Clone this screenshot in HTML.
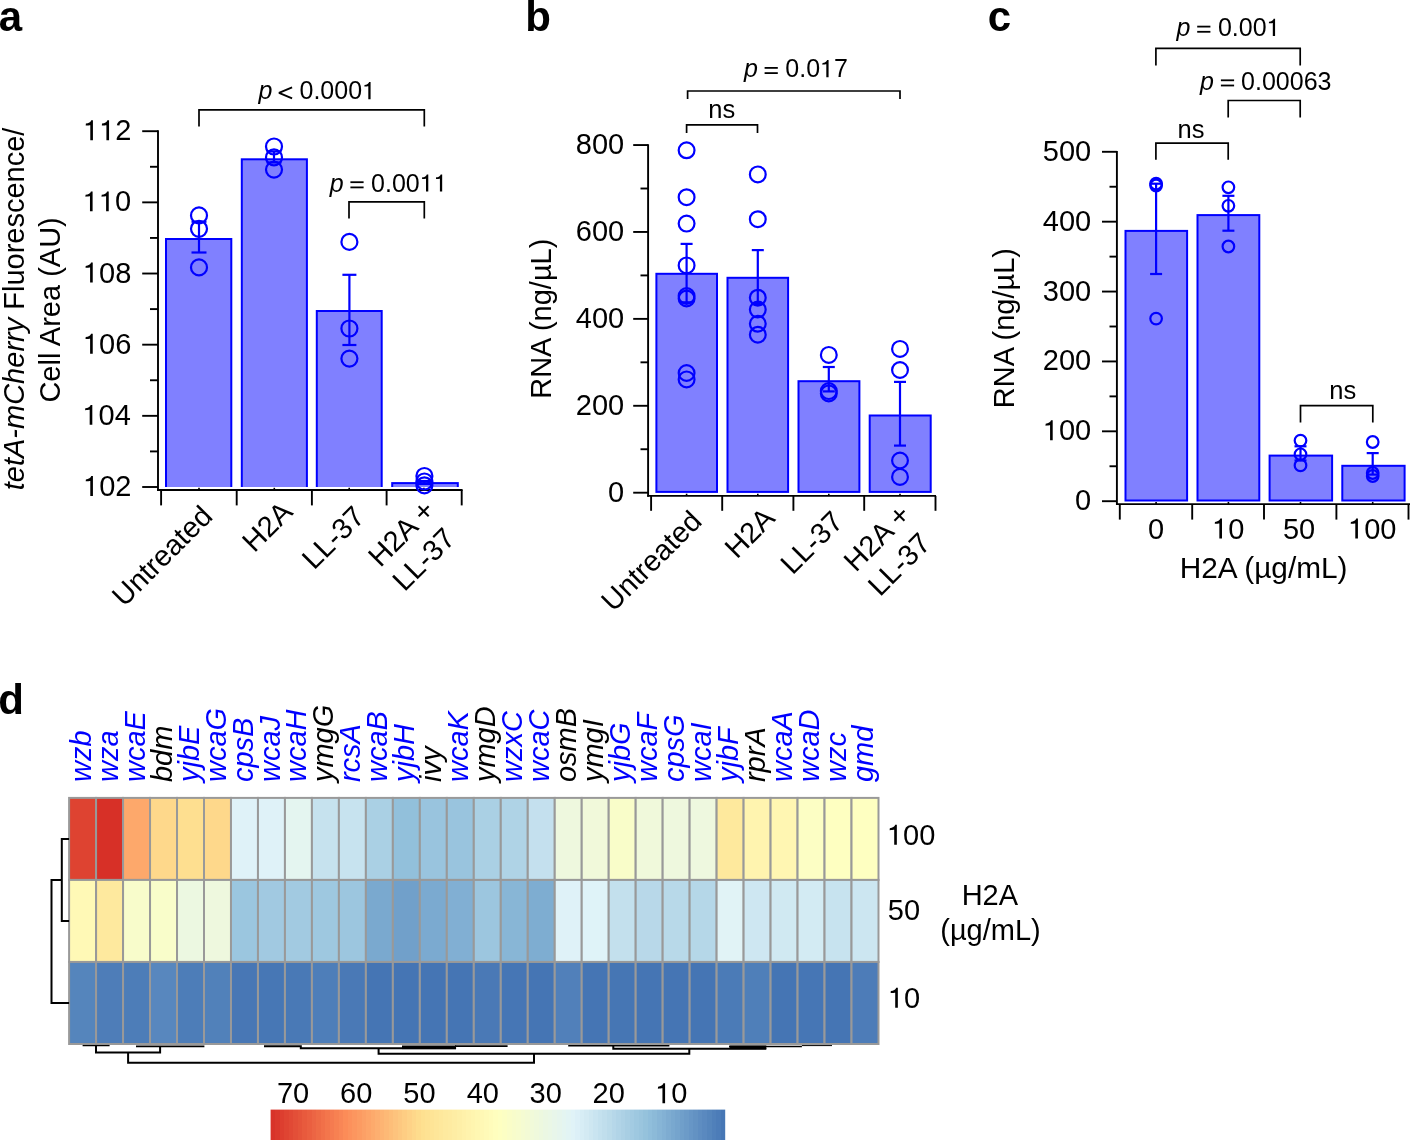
<!DOCTYPE html>
<html><head><meta charset="utf-8"><style>
html,body{margin:0;padding:0;background:#fff;}
svg{display:block;font-family:"Liberation Sans",sans-serif;will-change:transform;}
</style></head><body>
<svg width="1410" height="1140" viewBox="0 0 1410 1140">
<rect width="1410" height="1140" fill="#fff"/>
<text x="-1.23" y="30.90" font-size="42" font-weight="bold" fill="#000">a</text>
<line x1="158.00" y1="130.30" x2="158.00" y2="490.90" stroke="#000" stroke-width="1.9"/>
<line x1="142.20" y1="131.20" x2="158.00" y2="131.20" stroke="#000" stroke-width="1.9"/>
<text x="83.07" y="140.20" font-size="29" fill="#000">  2</text><path d="M696 0L696 1409L576 1409C560 1290 380 1175 200 1171L186 1036C330 1040 450 1050 510 1061L510 0Z" fill="#000" transform="translate(83.07,140.20) scale(0.01416,-0.01416)"/><path d="M696 0L696 1409L576 1409C560 1290 380 1175 200 1171L186 1036C330 1040 450 1050 510 1061L510 0Z" fill="#000" transform="translate(99.20,140.20) scale(0.01416,-0.01416)"/>
<line x1="150.00" y1="166.78" x2="158.00" y2="166.78" stroke="#000" stroke-width="1.9"/>
<line x1="142.20" y1="202.36" x2="158.00" y2="202.36" stroke="#000" stroke-width="1.9"/>
<text x="82.75" y="211.36" font-size="29" fill="#000">  0</text><path d="M696 0L696 1409L576 1409C560 1290 380 1175 200 1171L186 1036C330 1040 450 1050 510 1061L510 0Z" fill="#000" transform="translate(82.75,211.36) scale(0.01416,-0.01416)"/><path d="M696 0L696 1409L576 1409C560 1290 380 1175 200 1171L186 1036C330 1040 450 1050 510 1061L510 0Z" fill="#000" transform="translate(98.88,211.36) scale(0.01416,-0.01416)"/>
<line x1="150.00" y1="237.94" x2="158.00" y2="237.94" stroke="#000" stroke-width="1.9"/>
<line x1="142.20" y1="273.52" x2="158.00" y2="273.52" stroke="#000" stroke-width="1.9"/>
<text x="82.88" y="282.52" font-size="29" fill="#000"> 08</text><path d="M696 0L696 1409L576 1409C560 1290 380 1175 200 1171L186 1036C330 1040 450 1050 510 1061L510 0Z" fill="#000" transform="translate(82.88,282.52) scale(0.01416,-0.01416)"/>
<line x1="150.00" y1="309.10" x2="158.00" y2="309.10" stroke="#000" stroke-width="1.9"/>
<line x1="142.20" y1="344.68" x2="158.00" y2="344.68" stroke="#000" stroke-width="1.9"/>
<text x="82.89" y="353.68" font-size="29" fill="#000"> 06</text><path d="M696 0L696 1409L576 1409C560 1290 380 1175 200 1171L186 1036C330 1040 450 1050 510 1061L510 0Z" fill="#000" transform="translate(82.89,353.68) scale(0.01416,-0.01416)"/>
<line x1="150.00" y1="380.26" x2="158.00" y2="380.26" stroke="#000" stroke-width="1.9"/>
<line x1="142.20" y1="415.84" x2="158.00" y2="415.84" stroke="#000" stroke-width="1.9"/>
<text x="82.46" y="424.84" font-size="29" fill="#000"> 04</text><path d="M696 0L696 1409L576 1409C560 1290 380 1175 200 1171L186 1036C330 1040 450 1050 510 1061L510 0Z" fill="#000" transform="translate(82.46,424.84) scale(0.01416,-0.01416)"/>
<line x1="150.00" y1="451.42" x2="158.00" y2="451.42" stroke="#000" stroke-width="1.9"/>
<line x1="142.20" y1="487.00" x2="158.00" y2="487.00" stroke="#000" stroke-width="1.9"/>
<text x="83.07" y="496.00" font-size="29" fill="#000"> 02</text><path d="M696 0L696 1409L576 1409C560 1290 380 1175 200 1171L186 1036C330 1040 450 1050 510 1061L510 0Z" fill="#000" transform="translate(83.07,496.00) scale(0.01416,-0.01416)"/>
<line x1="157.10" y1="490.00" x2="462.60" y2="490.00" stroke="#000" stroke-width="1.9"/>
<line x1="161.10" y1="490.00" x2="161.10" y2="505.40" stroke="#000" stroke-width="1.9"/>
<line x1="236.70" y1="490.00" x2="236.70" y2="505.40" stroke="#000" stroke-width="1.9"/>
<line x1="311.90" y1="490.00" x2="311.90" y2="505.40" stroke="#000" stroke-width="1.9"/>
<line x1="386.60" y1="490.00" x2="386.60" y2="505.40" stroke="#000" stroke-width="1.9"/>
<line x1="461.70" y1="490.00" x2="461.70" y2="505.40" stroke="#000" stroke-width="1.9"/>
<line x1="199.00" y1="487.80" x2="199.00" y2="490.00" stroke="#000" stroke-width="1.6"/>
<line x1="274.30" y1="487.80" x2="274.30" y2="490.00" stroke="#000" stroke-width="1.6"/>
<line x1="349.20" y1="487.80" x2="349.20" y2="490.00" stroke="#000" stroke-width="1.6"/>
<line x1="423.90" y1="487.80" x2="423.90" y2="490.00" stroke="#000" stroke-width="1.6"/>
<clipPath id="clipa"><rect x="150" y="0" width="320" height="487.0"/></clipPath>
<g clip-path="url(#clipa)">
<rect x="166.00" y="239.00" width="65.30" height="252.00" fill="#8080ff" stroke="#0000ff" stroke-width="2.0"/>
<rect x="241.80" y="159.30" width="65.10" height="331.70" fill="#8080ff" stroke="#0000ff" stroke-width="2.0"/>
<rect x="316.80" y="311.00" width="64.90" height="180.00" fill="#8080ff" stroke="#0000ff" stroke-width="2.0"/>
<rect x="392.20" y="483.10" width="65.60" height="7.90" fill="#8080ff" stroke="#0000ff" stroke-width="2.0"/>
</g>
<circle cx="199.00" cy="215.40" r="8.00" fill="none" stroke="#0000ff" stroke-width="2.2"/>
<circle cx="199.00" cy="228.80" r="8.00" fill="none" stroke="#0000ff" stroke-width="2.2"/>
<circle cx="199.00" cy="267.40" r="8.00" fill="none" stroke="#0000ff" stroke-width="2.2"/>
<line x1="199.00" y1="221.70" x2="199.00" y2="252.50" stroke="#0000ff" stroke-width="2.2"/>
<line x1="191.50" y1="221.70" x2="206.50" y2="221.70" stroke="#0000ff" stroke-width="2.2"/>
<line x1="191.50" y1="252.50" x2="206.50" y2="252.50" stroke="#0000ff" stroke-width="2.2"/>
<circle cx="274.00" cy="146.50" r="8.00" fill="none" stroke="#0000ff" stroke-width="2.2"/>
<circle cx="274.00" cy="157.40" r="8.00" fill="none" stroke="#0000ff" stroke-width="2.2"/>
<circle cx="274.00" cy="169.60" r="8.00" fill="none" stroke="#0000ff" stroke-width="2.2"/>
<line x1="274.00" y1="151.50" x2="274.00" y2="162.50" stroke="#0000ff" stroke-width="2.2"/>
<line x1="266.50" y1="151.50" x2="281.50" y2="151.50" stroke="#0000ff" stroke-width="2.2"/>
<line x1="266.50" y1="162.50" x2="281.50" y2="162.50" stroke="#0000ff" stroke-width="2.2"/>
<circle cx="349.40" cy="241.90" r="8.00" fill="none" stroke="#0000ff" stroke-width="2.2"/>
<circle cx="349.40" cy="328.50" r="8.00" fill="none" stroke="#0000ff" stroke-width="2.2"/>
<circle cx="349.40" cy="358.60" r="8.00" fill="none" stroke="#0000ff" stroke-width="2.2"/>
<line x1="349.40" y1="274.80" x2="349.40" y2="345.00" stroke="#0000ff" stroke-width="2.2"/>
<line x1="342.40" y1="274.80" x2="356.40" y2="274.80" stroke="#0000ff" stroke-width="2.2"/>
<line x1="342.40" y1="345.00" x2="356.40" y2="345.00" stroke="#0000ff" stroke-width="2.2"/>
<circle cx="424.40" cy="476.00" r="8.00" fill="none" stroke="#0000ff" stroke-width="2.2"/>
<circle cx="424.40" cy="481.50" r="8.00" fill="none" stroke="#0000ff" stroke-width="2.2"/>
<circle cx="424.40" cy="485.30" r="8.00" fill="none" stroke="#0000ff" stroke-width="2.2"/>
<line x1="424.40" y1="481.00" x2="424.40" y2="484.00" stroke="#0000ff" stroke-width="2.2"/>
<line x1="417.40" y1="481.00" x2="431.40" y2="481.00" stroke="#0000ff" stroke-width="2.2"/>
<line x1="417.40" y1="484.00" x2="431.40" y2="484.00" stroke="#0000ff" stroke-width="2.2"/>
<polyline points="199.00,126.50 199.00,109.90 424.30,109.90 424.30,126.50" fill="none" stroke="#000" stroke-width="1.7"/>
<text x="258.42" y="99.20" font-size="25" font-style="italic" fill="#000">p</text>
<polyline points="292.10,87.30 279.00,92.85 292.10,98.40" fill="none" stroke="#000" stroke-width="1.9" stroke-linejoin="bevel"/>
<text x="299.52" y="99.20" font-size="25" fill="#000">0.000 </text><path d="M696 0L696 1409L576 1409C560 1290 380 1175 200 1171L186 1036C330 1040 450 1050 510 1061L510 0Z" fill="#000" transform="translate(362.08,99.20) scale(0.01221,-0.01221)"/>
<polyline points="349.00,218.60 349.00,201.80 424.30,201.80 424.30,218.60" fill="none" stroke="#000" stroke-width="1.7"/>
<text x="329.82" y="191.60" font-size="25" font-style="italic" fill="#000">p</text>
<line x1="350.40" y1="182.20" x2="363.60" y2="182.20" stroke="#000" stroke-width="1.8"/>
<line x1="350.40" y1="187.40" x2="363.60" y2="187.40" stroke="#000" stroke-width="1.8"/>
<text x="371.12" y="191.60" font-size="25" fill="#000">0.00  </text><path d="M696 0L696 1409L576 1409C560 1290 380 1175 200 1171L186 1036C330 1040 450 1050 510 1061L510 0Z" fill="#000" transform="translate(419.78,191.60) scale(0.01221,-0.01221)"/><path d="M696 0L696 1409L576 1409C560 1290 380 1175 200 1171L186 1036C330 1040 450 1050 510 1061L510 0Z" fill="#000" transform="translate(433.68,191.60) scale(0.01221,-0.01221)"/>
<text transform="translate(23.9,490.22) rotate(-90)" font-size="29"><tspan font-style="italic">tetA-mCherry</tspan> Fluorescence/</text>
<text transform="translate(59.60,402.57) rotate(-90)" font-size="29" fill="#000">Cell Area (AU)</text>
<text transform="translate(124.07,607.83) rotate(-45)" font-size="29">Untreated</text>
<text transform="translate(254.25,553.55) rotate(-45)" font-size="29">H2A</text>
<text transform="translate(313.98,570.82) rotate(-45)" font-size="29">LL-37</text>
<text transform="translate(380.15,568.35) rotate(-45)" font-size="29">H2A +</text>
<text transform="translate(404.58,592.52) rotate(-45)" font-size="29">LL-37</text>
<text x="525.33" y="30.60" font-size="42" font-weight="bold" fill="#000">b</text>
<line x1="648.10" y1="144.15" x2="648.10" y2="496.80" stroke="#000" stroke-width="1.9"/>
<line x1="633.20" y1="492.70" x2="648.10" y2="492.70" stroke="#000" stroke-width="1.9"/>
<text x="608.00" y="501.80" font-size="29" fill="#000">0</text>
<line x1="640.50" y1="449.24" x2="648.10" y2="449.24" stroke="#000" stroke-width="1.9"/>
<line x1="633.20" y1="405.79" x2="648.10" y2="405.79" stroke="#000" stroke-width="1.9"/>
<text x="575.75" y="414.89" font-size="29" fill="#000">200</text>
<line x1="640.50" y1="362.33" x2="648.10" y2="362.33" stroke="#000" stroke-width="1.9"/>
<line x1="633.20" y1="318.88" x2="648.10" y2="318.88" stroke="#000" stroke-width="1.9"/>
<text x="575.75" y="327.98" font-size="29" fill="#000">400</text>
<line x1="640.50" y1="275.42" x2="648.10" y2="275.42" stroke="#000" stroke-width="1.9"/>
<line x1="633.20" y1="231.96" x2="648.10" y2="231.96" stroke="#000" stroke-width="1.9"/>
<text x="575.75" y="241.06" font-size="29" fill="#000">600</text>
<line x1="640.50" y1="188.51" x2="648.10" y2="188.51" stroke="#000" stroke-width="1.9"/>
<line x1="633.20" y1="145.05" x2="648.10" y2="145.05" stroke="#000" stroke-width="1.9"/>
<text x="575.75" y="154.15" font-size="29" fill="#000">800</text>
<line x1="647.20" y1="495.90" x2="936.00" y2="495.90" stroke="#000" stroke-width="1.9"/>
<line x1="651.10" y1="495.90" x2="651.10" y2="510.80" stroke="#000" stroke-width="1.9"/>
<line x1="722.20" y1="495.90" x2="722.20" y2="510.80" stroke="#000" stroke-width="1.9"/>
<line x1="793.40" y1="495.90" x2="793.40" y2="510.80" stroke="#000" stroke-width="1.9"/>
<line x1="864.20" y1="495.90" x2="864.20" y2="510.80" stroke="#000" stroke-width="1.9"/>
<line x1="935.50" y1="495.90" x2="935.50" y2="510.80" stroke="#000" stroke-width="1.9"/>
<line x1="686.60" y1="493.70" x2="686.60" y2="495.90" stroke="#000" stroke-width="1.6"/>
<line x1="757.80" y1="493.70" x2="757.80" y2="495.90" stroke="#000" stroke-width="1.6"/>
<line x1="828.80" y1="493.70" x2="828.80" y2="495.90" stroke="#000" stroke-width="1.6"/>
<line x1="900.00" y1="493.70" x2="900.00" y2="495.90" stroke="#000" stroke-width="1.6"/>
<rect x="656.40" y="273.80" width="60.60" height="218.10" fill="#8080ff" stroke="#0000ff" stroke-width="2.0"/>
<rect x="727.50" y="277.80" width="60.60" height="214.10" fill="#8080ff" stroke="#0000ff" stroke-width="2.0"/>
<rect x="798.50" y="381.20" width="60.90" height="110.70" fill="#8080ff" stroke="#0000ff" stroke-width="2.0"/>
<rect x="869.70" y="415.50" width="61.00" height="76.40" fill="#8080ff" stroke="#0000ff" stroke-width="2.0"/>
<circle cx="686.60" cy="150.30" r="7.90" fill="none" stroke="#0000ff" stroke-width="2.2"/>
<circle cx="686.60" cy="197.20" r="7.90" fill="none" stroke="#0000ff" stroke-width="2.2"/>
<circle cx="686.60" cy="223.60" r="7.90" fill="none" stroke="#0000ff" stroke-width="2.2"/>
<circle cx="686.60" cy="265.40" r="7.90" fill="none" stroke="#0000ff" stroke-width="2.2"/>
<circle cx="686.60" cy="296.00" r="7.90" fill="none" stroke="#0000ff" stroke-width="2.2"/>
<circle cx="686.60" cy="298.50" r="7.90" fill="none" stroke="#0000ff" stroke-width="2.2"/>
<circle cx="686.60" cy="373.00" r="7.90" fill="none" stroke="#0000ff" stroke-width="2.2"/>
<circle cx="686.60" cy="379.40" r="7.90" fill="none" stroke="#0000ff" stroke-width="2.2"/>
<line x1="686.60" y1="243.90" x2="686.60" y2="302.30" stroke="#0000ff" stroke-width="2.2"/>
<line x1="680.60" y1="243.90" x2="692.60" y2="243.90" stroke="#0000ff" stroke-width="2.2"/>
<line x1="680.60" y1="302.30" x2="692.60" y2="302.30" stroke="#0000ff" stroke-width="2.2"/>
<circle cx="757.80" cy="174.40" r="7.90" fill="none" stroke="#0000ff" stroke-width="2.2"/>
<circle cx="757.80" cy="219.20" r="7.90" fill="none" stroke="#0000ff" stroke-width="2.2"/>
<circle cx="757.80" cy="297.70" r="7.90" fill="none" stroke="#0000ff" stroke-width="2.2"/>
<circle cx="757.80" cy="309.60" r="7.90" fill="none" stroke="#0000ff" stroke-width="2.2"/>
<circle cx="757.80" cy="323.80" r="7.90" fill="none" stroke="#0000ff" stroke-width="2.2"/>
<circle cx="757.80" cy="334.70" r="7.90" fill="none" stroke="#0000ff" stroke-width="2.2"/>
<line x1="757.80" y1="250.10" x2="757.80" y2="304.10" stroke="#0000ff" stroke-width="2.2"/>
<line x1="751.80" y1="250.10" x2="763.80" y2="250.10" stroke="#0000ff" stroke-width="2.2"/>
<line x1="751.80" y1="304.10" x2="763.80" y2="304.10" stroke="#0000ff" stroke-width="2.2"/>
<circle cx="828.80" cy="354.90" r="7.90" fill="none" stroke="#0000ff" stroke-width="2.2"/>
<circle cx="828.80" cy="391.10" r="7.90" fill="none" stroke="#0000ff" stroke-width="2.2"/>
<circle cx="828.80" cy="393.40" r="7.90" fill="none" stroke="#0000ff" stroke-width="2.2"/>
<line x1="828.80" y1="367.00" x2="828.80" y2="391.40" stroke="#0000ff" stroke-width="2.2"/>
<line x1="822.80" y1="367.00" x2="834.80" y2="367.00" stroke="#0000ff" stroke-width="2.2"/>
<line x1="822.80" y1="391.40" x2="834.80" y2="391.40" stroke="#0000ff" stroke-width="2.2"/>
<circle cx="900.00" cy="348.90" r="7.90" fill="none" stroke="#0000ff" stroke-width="2.2"/>
<circle cx="900.00" cy="370.00" r="7.90" fill="none" stroke="#0000ff" stroke-width="2.2"/>
<circle cx="900.00" cy="460.50" r="7.90" fill="none" stroke="#0000ff" stroke-width="2.2"/>
<circle cx="900.00" cy="476.90" r="7.90" fill="none" stroke="#0000ff" stroke-width="2.2"/>
<line x1="900.00" y1="381.90" x2="900.00" y2="445.60" stroke="#0000ff" stroke-width="2.2"/>
<line x1="894.00" y1="381.90" x2="906.00" y2="381.90" stroke="#0000ff" stroke-width="2.2"/>
<line x1="894.00" y1="445.60" x2="906.00" y2="445.60" stroke="#0000ff" stroke-width="2.2"/>
<polyline points="687.60,99.00 687.60,91.00 900.00,91.00 900.00,99.00" fill="none" stroke="#000" stroke-width="1.7"/>
<text x="743.92" y="77.30" font-size="25" font-style="italic" fill="#000">p</text>
<line x1="764.60" y1="67.90" x2="777.80" y2="67.90" stroke="#000" stroke-width="1.8"/>
<line x1="764.60" y1="73.10" x2="777.80" y2="73.10" stroke="#000" stroke-width="1.8"/>
<text x="785.32" y="77.30" font-size="25" fill="#000">0.0 7</text><path d="M696 0L696 1409L576 1409C560 1290 380 1175 200 1171L186 1036C330 1040 450 1050 510 1061L510 0Z" fill="#000" transform="translate(820.08,77.30) scale(0.01221,-0.01221)"/>
<polyline points="686.60,133.00 686.60,124.80 757.50,124.80 757.50,133.00" fill="none" stroke="#000" stroke-width="1.7"/>
<text x="708.25" y="117.80" font-size="25.5" fill="#000">ns</text>
<text transform="translate(550.80,398.78) rotate(-90)" font-size="29" fill="#000">RNA (ng/µL)</text>
<text transform="translate(613.37,612.83) rotate(-45)" font-size="29">Untreated</text>
<text transform="translate(736.65,559.75) rotate(-45)" font-size="29">H2A</text>
<text transform="translate(792.48,575.72) rotate(-45)" font-size="29">LL-37</text>
<text transform="translate(855.85,573.05) rotate(-45)" font-size="29">H2A +</text>
<text transform="translate(879.88,597.42) rotate(-45)" font-size="29">LL-37</text>
<text x="987.86" y="30.60" font-size="42" font-weight="bold" fill="#000">c</text>
<line x1="1116.90" y1="150.90" x2="1116.90" y2="505.00" stroke="#000" stroke-width="1.9"/>
<line x1="1102.00" y1="501.20" x2="1116.90" y2="501.20" stroke="#000" stroke-width="1.9"/>
<text x="1075.10" y="510.20" font-size="29" fill="#000">0</text>
<line x1="1109.50" y1="466.26" x2="1116.90" y2="466.26" stroke="#000" stroke-width="1.9"/>
<line x1="1102.00" y1="431.32" x2="1116.90" y2="431.32" stroke="#000" stroke-width="1.9"/>
<text x="1042.85" y="440.32" font-size="29" fill="#000"> 00</text><path d="M696 0L696 1409L576 1409C560 1290 380 1175 200 1171L186 1036C330 1040 450 1050 510 1061L510 0Z" fill="#000" transform="translate(1042.85,440.32) scale(0.01416,-0.01416)"/>
<line x1="1109.50" y1="396.38" x2="1116.90" y2="396.38" stroke="#000" stroke-width="1.9"/>
<line x1="1102.00" y1="361.44" x2="1116.90" y2="361.44" stroke="#000" stroke-width="1.9"/>
<text x="1042.85" y="370.44" font-size="29" fill="#000">200</text>
<line x1="1109.50" y1="326.50" x2="1116.90" y2="326.50" stroke="#000" stroke-width="1.9"/>
<line x1="1102.00" y1="291.56" x2="1116.90" y2="291.56" stroke="#000" stroke-width="1.9"/>
<text x="1042.85" y="300.56" font-size="29" fill="#000">300</text>
<line x1="1109.50" y1="256.62" x2="1116.90" y2="256.62" stroke="#000" stroke-width="1.9"/>
<line x1="1102.00" y1="221.68" x2="1116.90" y2="221.68" stroke="#000" stroke-width="1.9"/>
<text x="1042.85" y="230.68" font-size="29" fill="#000">400</text>
<line x1="1109.50" y1="186.74" x2="1116.90" y2="186.74" stroke="#000" stroke-width="1.9"/>
<line x1="1102.00" y1="151.80" x2="1116.90" y2="151.80" stroke="#000" stroke-width="1.9"/>
<text x="1042.85" y="160.80" font-size="29" fill="#000">500</text>
<line x1="1116.00" y1="504.10" x2="1410.00" y2="504.10" stroke="#000" stroke-width="1.9"/>
<line x1="1119.80" y1="504.10" x2="1119.80" y2="519.60" stroke="#000" stroke-width="1.9"/>
<line x1="1192.20" y1="504.10" x2="1192.20" y2="519.60" stroke="#000" stroke-width="1.9"/>
<line x1="1264.00" y1="504.10" x2="1264.00" y2="519.60" stroke="#000" stroke-width="1.9"/>
<line x1="1336.40" y1="504.10" x2="1336.40" y2="519.60" stroke="#000" stroke-width="1.9"/>
<line x1="1408.50" y1="504.10" x2="1408.50" y2="519.60" stroke="#000" stroke-width="1.9"/>
<line x1="1156.10" y1="501.90" x2="1156.10" y2="504.10" stroke="#000" stroke-width="1.6"/>
<line x1="1228.40" y1="501.90" x2="1228.40" y2="504.10" stroke="#000" stroke-width="1.6"/>
<line x1="1300.50" y1="501.90" x2="1300.50" y2="504.10" stroke="#000" stroke-width="1.6"/>
<line x1="1372.70" y1="501.90" x2="1372.70" y2="504.10" stroke="#000" stroke-width="1.6"/>
<rect x="1125.50" y="230.90" width="61.60" height="269.60" fill="#8080ff" stroke="#0000ff" stroke-width="2.0"/>
<rect x="1197.50" y="215.10" width="61.80" height="285.40" fill="#8080ff" stroke="#0000ff" stroke-width="2.0"/>
<rect x="1269.60" y="455.60" width="62.50" height="44.90" fill="#8080ff" stroke="#0000ff" stroke-width="2.0"/>
<rect x="1342.30" y="465.80" width="62.30" height="34.70" fill="#8080ff" stroke="#0000ff" stroke-width="2.0"/>
<circle cx="1156.10" cy="183.70" r="5.80" fill="none" stroke="#0000ff" stroke-width="2.2"/>
<circle cx="1156.10" cy="185.50" r="5.80" fill="none" stroke="#0000ff" stroke-width="2.2"/>
<circle cx="1156.10" cy="318.60" r="5.80" fill="none" stroke="#0000ff" stroke-width="2.2"/>
<line x1="1156.10" y1="183.70" x2="1156.10" y2="274.00" stroke="#0000ff" stroke-width="2.2"/>
<line x1="1150.10" y1="183.70" x2="1162.10" y2="183.70" stroke="#0000ff" stroke-width="2.2"/>
<line x1="1150.10" y1="274.00" x2="1162.10" y2="274.00" stroke="#0000ff" stroke-width="2.2"/>
<circle cx="1228.40" cy="187.30" r="5.80" fill="none" stroke="#0000ff" stroke-width="2.2"/>
<circle cx="1228.40" cy="205.80" r="5.80" fill="none" stroke="#0000ff" stroke-width="2.2"/>
<circle cx="1228.40" cy="246.50" r="5.80" fill="none" stroke="#0000ff" stroke-width="2.2"/>
<line x1="1228.40" y1="195.80" x2="1228.40" y2="230.70" stroke="#0000ff" stroke-width="2.2"/>
<line x1="1222.40" y1="195.80" x2="1234.40" y2="195.80" stroke="#0000ff" stroke-width="2.2"/>
<line x1="1222.40" y1="230.70" x2="1234.40" y2="230.70" stroke="#0000ff" stroke-width="2.2"/>
<circle cx="1300.50" cy="440.60" r="5.80" fill="none" stroke="#0000ff" stroke-width="2.2"/>
<circle cx="1300.50" cy="454.30" r="5.80" fill="none" stroke="#0000ff" stroke-width="2.2"/>
<circle cx="1300.50" cy="465.40" r="5.80" fill="none" stroke="#0000ff" stroke-width="2.2"/>
<line x1="1300.50" y1="446.30" x2="1300.50" y2="460.50" stroke="#0000ff" stroke-width="2.2"/>
<line x1="1294.50" y1="446.30" x2="1306.50" y2="446.30" stroke="#0000ff" stroke-width="2.2"/>
<line x1="1294.50" y1="460.50" x2="1306.50" y2="460.50" stroke="#0000ff" stroke-width="2.2"/>
<circle cx="1372.70" cy="442.00" r="5.80" fill="none" stroke="#0000ff" stroke-width="2.2"/>
<circle cx="1372.70" cy="473.00" r="5.80" fill="none" stroke="#0000ff" stroke-width="2.2"/>
<circle cx="1372.70" cy="476.00" r="5.80" fill="none" stroke="#0000ff" stroke-width="2.2"/>
<line x1="1372.70" y1="453.10" x2="1372.70" y2="474.60" stroke="#0000ff" stroke-width="2.2"/>
<line x1="1366.70" y1="453.10" x2="1378.70" y2="453.10" stroke="#0000ff" stroke-width="2.2"/>
<line x1="1366.70" y1="474.60" x2="1378.70" y2="474.60" stroke="#0000ff" stroke-width="2.2"/>
<polyline points="1155.90,65.50 1155.90,48.40 1300.20,48.40 1300.20,65.50" fill="none" stroke="#000" stroke-width="1.7"/>
<text x="1176.62" y="36.00" font-size="25" font-style="italic" fill="#000">p</text>
<line x1="1197.20" y1="26.60" x2="1210.40" y2="26.60" stroke="#000" stroke-width="1.8"/>
<line x1="1197.20" y1="31.80" x2="1210.40" y2="31.80" stroke="#000" stroke-width="1.8"/>
<text x="1217.92" y="36.00" font-size="25" fill="#000">0.00 </text><path d="M696 0L696 1409L576 1409C560 1290 380 1175 200 1171L186 1036C330 1040 450 1050 510 1061L510 0Z" fill="#000" transform="translate(1266.58,36.00) scale(0.01221,-0.01221)"/>
<polyline points="1228.20,117.40 1228.20,100.50 1300.20,100.50 1300.20,117.40" fill="none" stroke="#000" stroke-width="1.7"/>
<text x="1200.02" y="89.70" font-size="25" font-style="italic" fill="#000">p</text>
<line x1="1220.90" y1="80.30" x2="1234.10" y2="80.30" stroke="#000" stroke-width="1.8"/>
<line x1="1220.90" y1="85.50" x2="1234.10" y2="85.50" stroke="#000" stroke-width="1.8"/>
<text x="1241.12" y="89.70" font-size="25" fill="#000">0.00063</text>
<polyline points="1155.90,159.80 1155.90,143.10 1228.20,143.10 1228.20,159.80" fill="none" stroke="#000" stroke-width="1.7"/>
<text x="1177.50" y="137.90" font-size="25.5" fill="#000">ns</text>
<polyline points="1300.50,422.40 1300.50,405.60 1372.80,405.60 1372.80,422.40" fill="none" stroke="#000" stroke-width="1.7"/>
<text x="1329.25" y="398.70" font-size="25.5" fill="#000">ns</text>
<text x="1148.04" y="538.50" font-size="29" fill="#000">0</text>
<text x="1212.13" y="538.50" font-size="29" fill="#000"> 0</text><path d="M696 0L696 1409L576 1409C560 1290 380 1175 200 1171L186 1036C330 1040 450 1050 510 1061L510 0Z" fill="#000" transform="translate(1212.13,538.50) scale(0.01416,-0.01416)"/>
<text x="1282.96" y="538.50" font-size="29" fill="#000">50</text>
<text x="1348.07" y="538.50" font-size="29" fill="#000"> 00</text><path d="M696 0L696 1409L576 1409C560 1290 380 1175 200 1171L186 1036C330 1040 450 1050 510 1061L510 0Z" fill="#000" transform="translate(1348.07,538.50) scale(0.01416,-0.01416)"/>
<text x="1179.64" y="577.90" font-size="29.8" fill="#000">H2A (µg/mL)</text>
<text transform="translate(1014.20,408.18) rotate(-90)" font-size="29" fill="#000">RNA (ng/µL)</text>
<rect x="69.10" y="797.90" width="26.98" height="82.03" fill="#de4331" stroke="#999999" stroke-width="2"/>
<rect x="96.08" y="797.90" width="26.98" height="82.03" fill="#d73027" stroke="#999999" stroke-width="2"/>
<rect x="123.06" y="797.90" width="26.98" height="82.03" fill="#fda86b" stroke="#999999" stroke-width="2"/>
<rect x="150.04" y="797.90" width="26.98" height="82.03" fill="#fed88b" stroke="#999999" stroke-width="2"/>
<rect x="177.02" y="797.90" width="26.98" height="82.03" fill="#fedf90" stroke="#999999" stroke-width="2"/>
<rect x="204.00" y="797.90" width="26.98" height="82.03" fill="#fed88b" stroke="#999999" stroke-width="2"/>
<rect x="230.98" y="797.90" width="26.98" height="82.03" fill="#dff2f8" stroke="#999999" stroke-width="2"/>
<rect x="257.96" y="797.90" width="26.98" height="82.03" fill="#dff2f8" stroke="#999999" stroke-width="2"/>
<rect x="284.94" y="797.90" width="26.98" height="82.03" fill="#e4f5f0" stroke="#999999" stroke-width="2"/>
<rect x="311.92" y="797.90" width="26.98" height="82.03" fill="#c6e2ee" stroke="#999999" stroke-width="2"/>
<rect x="338.90" y="797.90" width="26.98" height="82.03" fill="#c7e3ef" stroke="#999999" stroke-width="2"/>
<rect x="365.88" y="797.90" width="26.98" height="82.03" fill="#aad0e4" stroke="#999999" stroke-width="2"/>
<rect x="392.86" y="797.90" width="26.98" height="82.03" fill="#92c0db" stroke="#999999" stroke-width="2"/>
<rect x="419.84" y="797.90" width="26.98" height="82.03" fill="#99c4de" stroke="#999999" stroke-width="2"/>
<rect x="446.82" y="797.90" width="26.98" height="82.03" fill="#99c4de" stroke="#999999" stroke-width="2"/>
<rect x="473.80" y="797.90" width="26.98" height="82.03" fill="#aad0e4" stroke="#999999" stroke-width="2"/>
<rect x="500.78" y="797.90" width="26.98" height="82.03" fill="#afd3e6" stroke="#999999" stroke-width="2"/>
<rect x="527.76" y="797.90" width="26.98" height="82.03" fill="#c4e0ee" stroke="#999999" stroke-width="2"/>
<rect x="554.74" y="797.90" width="26.98" height="82.03" fill="#eef8de" stroke="#999999" stroke-width="2"/>
<rect x="581.72" y="797.90" width="26.98" height="82.03" fill="#f1f9da" stroke="#999999" stroke-width="2"/>
<rect x="608.70" y="797.90" width="26.98" height="82.03" fill="#f9fdc9" stroke="#999999" stroke-width="2"/>
<rect x="635.68" y="797.90" width="26.98" height="82.03" fill="#f0f9db" stroke="#999999" stroke-width="2"/>
<rect x="662.66" y="797.90" width="26.98" height="82.03" fill="#eef8de" stroke="#999999" stroke-width="2"/>
<rect x="689.64" y="797.90" width="26.98" height="82.03" fill="#eef8df" stroke="#999999" stroke-width="2"/>
<rect x="716.62" y="797.90" width="26.98" height="82.03" fill="#fee99d" stroke="#999999" stroke-width="2"/>
<rect x="743.60" y="797.90" width="26.98" height="82.03" fill="#fff4af" stroke="#999999" stroke-width="2"/>
<rect x="770.58" y="797.90" width="26.98" height="82.03" fill="#fff6b2" stroke="#999999" stroke-width="2"/>
<rect x="797.56" y="797.90" width="26.98" height="82.03" fill="#fcfec4" stroke="#999999" stroke-width="2"/>
<rect x="824.54" y="797.90" width="26.98" height="82.03" fill="#feffc1" stroke="#999999" stroke-width="2"/>
<rect x="851.52" y="797.90" width="26.98" height="82.03" fill="#feffc1" stroke="#999999" stroke-width="2"/>
<rect x="69.10" y="879.93" width="26.98" height="82.03" fill="#fff9b6" stroke="#999999" stroke-width="2"/>
<rect x="96.08" y="879.93" width="26.98" height="82.03" fill="#fee99e" stroke="#999999" stroke-width="2"/>
<rect x="123.06" y="879.93" width="26.98" height="82.03" fill="#f8fccb" stroke="#999999" stroke-width="2"/>
<rect x="150.04" y="879.93" width="26.98" height="82.03" fill="#f9fdca" stroke="#999999" stroke-width="2"/>
<rect x="177.02" y="879.93" width="26.98" height="82.03" fill="#ecf8e1" stroke="#999999" stroke-width="2"/>
<rect x="204.00" y="879.93" width="26.98" height="82.03" fill="#eef8de" stroke="#999999" stroke-width="2"/>
<rect x="230.98" y="879.93" width="26.98" height="82.03" fill="#9bc6df" stroke="#999999" stroke-width="2"/>
<rect x="257.96" y="879.93" width="26.98" height="82.03" fill="#a1c9e1" stroke="#999999" stroke-width="2"/>
<rect x="284.94" y="879.93" width="26.98" height="82.03" fill="#a2cae1" stroke="#999999" stroke-width="2"/>
<rect x="311.92" y="879.93" width="26.98" height="82.03" fill="#9ec8e0" stroke="#999999" stroke-width="2"/>
<rect x="338.90" y="879.93" width="26.98" height="82.03" fill="#9cc6df" stroke="#999999" stroke-width="2"/>
<rect x="365.88" y="879.93" width="26.98" height="82.03" fill="#7aa9cf" stroke="#999999" stroke-width="2"/>
<rect x="392.86" y="879.93" width="26.98" height="82.03" fill="#71a0ca" stroke="#999999" stroke-width="2"/>
<rect x="419.84" y="879.93" width="26.98" height="82.03" fill="#7baad0" stroke="#999999" stroke-width="2"/>
<rect x="446.82" y="879.93" width="26.98" height="82.03" fill="#81afd3" stroke="#999999" stroke-width="2"/>
<rect x="473.80" y="879.93" width="26.98" height="82.03" fill="#9cc6df" stroke="#999999" stroke-width="2"/>
<rect x="500.78" y="879.93" width="26.98" height="82.03" fill="#88b6d6" stroke="#999999" stroke-width="2"/>
<rect x="527.76" y="879.93" width="26.98" height="82.03" fill="#7eadd1" stroke="#999999" stroke-width="2"/>
<rect x="554.74" y="879.93" width="26.98" height="82.03" fill="#dff2f8" stroke="#999999" stroke-width="2"/>
<rect x="581.72" y="879.93" width="26.98" height="82.03" fill="#dff3f8" stroke="#999999" stroke-width="2"/>
<rect x="608.70" y="879.93" width="26.98" height="82.03" fill="#c3e0ed" stroke="#999999" stroke-width="2"/>
<rect x="635.68" y="879.93" width="26.98" height="82.03" fill="#b8d8e9" stroke="#999999" stroke-width="2"/>
<rect x="662.66" y="879.93" width="26.98" height="82.03" fill="#b8d9e9" stroke="#999999" stroke-width="2"/>
<rect x="689.64" y="879.93" width="26.98" height="82.03" fill="#b5d7e8" stroke="#999999" stroke-width="2"/>
<rect x="716.62" y="879.93" width="26.98" height="82.03" fill="#e1f3f6" stroke="#999999" stroke-width="2"/>
<rect x="743.60" y="879.93" width="26.98" height="82.03" fill="#cee7f2" stroke="#999999" stroke-width="2"/>
<rect x="770.58" y="879.93" width="26.98" height="82.03" fill="#d0e9f2" stroke="#999999" stroke-width="2"/>
<rect x="797.56" y="879.93" width="26.98" height="82.03" fill="#d3ebf3" stroke="#999999" stroke-width="2"/>
<rect x="824.54" y="879.93" width="26.98" height="82.03" fill="#c7e3ef" stroke="#999999" stroke-width="2"/>
<rect x="851.52" y="879.93" width="26.98" height="82.03" fill="#cce6f1" stroke="#999999" stroke-width="2"/>
<rect x="69.10" y="961.96" width="26.98" height="82.03" fill="#5585bc" stroke="#999999" stroke-width="2"/>
<rect x="96.08" y="961.96" width="26.98" height="82.03" fill="#4e7db8" stroke="#999999" stroke-width="2"/>
<rect x="123.06" y="961.96" width="26.98" height="82.03" fill="#4d7db8" stroke="#999999" stroke-width="2"/>
<rect x="150.04" y="961.96" width="26.98" height="82.03" fill="#5887be" stroke="#999999" stroke-width="2"/>
<rect x="177.02" y="961.96" width="26.98" height="82.03" fill="#4d7db8" stroke="#999999" stroke-width="2"/>
<rect x="204.00" y="961.96" width="26.98" height="82.03" fill="#5181ba" stroke="#999999" stroke-width="2"/>
<rect x="230.98" y="961.96" width="26.98" height="82.03" fill="#4877b5" stroke="#999999" stroke-width="2"/>
<rect x="257.96" y="961.96" width="26.98" height="82.03" fill="#4777b5" stroke="#999999" stroke-width="2"/>
<rect x="284.94" y="961.96" width="26.98" height="82.03" fill="#4979b6" stroke="#999999" stroke-width="2"/>
<rect x="311.92" y="961.96" width="26.98" height="82.03" fill="#4e7eb9" stroke="#999999" stroke-width="2"/>
<rect x="338.90" y="961.96" width="26.98" height="82.03" fill="#4a79b6" stroke="#999999" stroke-width="2"/>
<rect x="365.88" y="961.96" width="26.98" height="82.03" fill="#4575b4" stroke="#999999" stroke-width="2"/>
<rect x="392.86" y="961.96" width="26.98" height="82.03" fill="#4575b4" stroke="#999999" stroke-width="2"/>
<rect x="419.84" y="961.96" width="26.98" height="82.03" fill="#4575b4" stroke="#999999" stroke-width="2"/>
<rect x="446.82" y="961.96" width="26.98" height="82.03" fill="#4575b4" stroke="#999999" stroke-width="2"/>
<rect x="473.80" y="961.96" width="26.98" height="82.03" fill="#4a79b6" stroke="#999999" stroke-width="2"/>
<rect x="500.78" y="961.96" width="26.98" height="82.03" fill="#4676b5" stroke="#999999" stroke-width="2"/>
<rect x="527.76" y="961.96" width="26.98" height="82.03" fill="#4575b4" stroke="#999999" stroke-width="2"/>
<rect x="554.74" y="961.96" width="26.98" height="82.03" fill="#5180ba" stroke="#999999" stroke-width="2"/>
<rect x="581.72" y="961.96" width="26.98" height="82.03" fill="#4575b4" stroke="#999999" stroke-width="2"/>
<rect x="608.70" y="961.96" width="26.98" height="82.03" fill="#4676b4" stroke="#999999" stroke-width="2"/>
<rect x="635.68" y="961.96" width="26.98" height="82.03" fill="#4575b4" stroke="#999999" stroke-width="2"/>
<rect x="662.66" y="961.96" width="26.98" height="82.03" fill="#4575b4" stroke="#999999" stroke-width="2"/>
<rect x="689.64" y="961.96" width="26.98" height="82.03" fill="#4575b4" stroke="#999999" stroke-width="2"/>
<rect x="716.62" y="961.96" width="26.98" height="82.03" fill="#4b7bb7" stroke="#999999" stroke-width="2"/>
<rect x="743.60" y="961.96" width="26.98" height="82.03" fill="#4f7fb9" stroke="#999999" stroke-width="2"/>
<rect x="770.58" y="961.96" width="26.98" height="82.03" fill="#4575b4" stroke="#999999" stroke-width="2"/>
<rect x="797.56" y="961.96" width="26.98" height="82.03" fill="#4676b5" stroke="#999999" stroke-width="2"/>
<rect x="824.54" y="961.96" width="26.98" height="82.03" fill="#4575b4" stroke="#999999" stroke-width="2"/>
<rect x="851.52" y="961.96" width="26.98" height="82.03" fill="#4d7cb8" stroke="#999999" stroke-width="2"/>
<text transform="translate(90.64,782.04) rotate(-90)" font-size="29" font-style="italic" fill="#0000ff">wzb</text>
<text transform="translate(117.62,782.04) rotate(-90)" font-size="29" font-style="italic" fill="#0000ff">wza</text>
<text transform="translate(144.60,782.04) rotate(-90)" font-size="29" font-style="italic" fill="#0000ff">wcaE</text>
<text transform="translate(171.58,782.04) rotate(-90)" font-size="29" font-style="italic" fill="#000">bdm</text>
<text transform="translate(198.56,782.04) rotate(-90)" font-size="29" font-style="italic" fill="#0000ff">yjbE</text>
<text transform="translate(225.54,782.04) rotate(-90)" font-size="29" font-style="italic" fill="#0000ff">wcaG</text>
<text transform="translate(252.52,782.04) rotate(-90)" font-size="29" font-style="italic" fill="#0000ff">cpsB</text>
<text transform="translate(279.50,782.04) rotate(-90)" font-size="29" font-style="italic" fill="#0000ff">wcaJ</text>
<text transform="translate(306.48,782.04) rotate(-90)" font-size="29" font-style="italic" fill="#0000ff">wcaH</text>
<text transform="translate(333.46,782.04) rotate(-90)" font-size="29" font-style="italic" fill="#000">ymgG</text>
<text transform="translate(360.44,782.04) rotate(-90)" font-size="29" font-style="italic" fill="#0000ff">rcsA</text>
<text transform="translate(387.42,782.04) rotate(-90)" font-size="29" font-style="italic" fill="#0000ff">wcaB</text>
<text transform="translate(414.40,782.04) rotate(-90)" font-size="29" font-style="italic" fill="#0000ff">yjbH</text>
<text transform="translate(441.38,782.04) rotate(-90)" font-size="29" font-style="italic" fill="#000">ivy</text>
<text transform="translate(468.36,782.04) rotate(-90)" font-size="29" font-style="italic" fill="#0000ff">wcaK</text>
<text transform="translate(495.34,782.04) rotate(-90)" font-size="29" font-style="italic" fill="#000">ymgD</text>
<text transform="translate(522.32,782.04) rotate(-90)" font-size="29" font-style="italic" fill="#0000ff">wzxC</text>
<text transform="translate(549.30,782.04) rotate(-90)" font-size="29" font-style="italic" fill="#0000ff">wcaC</text>
<text transform="translate(576.28,782.04) rotate(-90)" font-size="29" font-style="italic" fill="#000">osmB</text>
<text transform="translate(603.26,782.04) rotate(-90)" font-size="29" font-style="italic" fill="#000">ymgI</text>
<text transform="translate(630.24,782.04) rotate(-90)" font-size="29" font-style="italic" fill="#0000ff">yjbG</text>
<text transform="translate(657.22,782.04) rotate(-90)" font-size="29" font-style="italic" fill="#0000ff">wcaF</text>
<text transform="translate(684.20,782.04) rotate(-90)" font-size="29" font-style="italic" fill="#0000ff">cpsG</text>
<text transform="translate(711.18,782.04) rotate(-90)" font-size="29" font-style="italic" fill="#0000ff">wcaI</text>
<text transform="translate(738.16,782.04) rotate(-90)" font-size="29" font-style="italic" fill="#0000ff">yjbF</text>
<text transform="translate(765.14,782.04) rotate(-90)" font-size="29" font-style="italic" fill="#000">rprA</text>
<text transform="translate(792.12,782.04) rotate(-90)" font-size="29" font-style="italic" fill="#0000ff">wcaA</text>
<text transform="translate(819.10,782.04) rotate(-90)" font-size="29" font-style="italic" fill="#0000ff">wcaD</text>
<text transform="translate(846.08,782.04) rotate(-90)" font-size="29" font-style="italic" fill="#0000ff">wzc</text>
<text transform="translate(873.06,782.04) rotate(-90)" font-size="29" font-style="italic" fill="#0000ff">gmd</text>
<text x="886.99" y="844.80" font-size="29" fill="#000"> 00</text><path d="M696 0L696 1409L576 1409C560 1290 380 1175 200 1171L186 1036C330 1040 450 1050 510 1061L510 0Z" fill="#000" transform="translate(886.99,844.80) scale(0.01416,-0.01416)"/>
<text x="887.84" y="920.40" font-size="29" fill="#000">50</text>
<text x="887.99" y="1007.70" font-size="29" fill="#000"> 0</text><path d="M696 0L696 1409L576 1409C560 1290 380 1175 200 1171L186 1036C330 1040 450 1050 510 1061L510 0Z" fill="#000" transform="translate(887.99,1007.70) scale(0.01416,-0.01416)"/>
<text x="961.63" y="905.30" font-size="29" fill="#000">H2A</text>
<text x="940.25" y="940.20" font-size="29" fill="#000">(µg/mL)</text>
<text x="-1.72" y="713.90" font-size="42" font-weight="bold" fill="#000">d</text>
<polyline points="69.10,838.91 61.8,838.91 61.8,920.94 69.10,920.94" fill="none" stroke="#000" stroke-width="2"/>
<polyline points="61.8,879.93 51.5,879.93 51.5,1002.97 69.10,1002.97" fill="none" stroke="#000" stroke-width="2"/>
<polyline points="82.6,1045.6 109.6,1045.6" fill="none" stroke="#000" stroke-width="1.3"/>
<polyline points="96.0,1045.6 96.0,1052.4 160.1,1052.4 160.1,1046.4" fill="none" stroke="#000" stroke-width="2"/>
<polyline points="136.0,1046.4 204.4,1046.4" fill="none" stroke="#000" stroke-width="1.8"/>
<polyline points="128.1,1052.4 128.1,1062.8 534.0,1062.8 534.0,1053.7" fill="none" stroke="#000" stroke-width="2"/>
<polyline points="264.0,1046.2 300.8,1046.2 300.8,1048.2 456.1,1048.2" fill="none" stroke="#000" stroke-width="2"/>
<rect x="402" y="1045.5" width="54" height="3.6" fill="#000"/>
<polyline points="378.6,1048.2 378.6,1053.7 689.3,1053.7 689.3,1048.8" fill="none" stroke="#000" stroke-width="2"/>
<polyline points="455.0,1046.2 507.6,1046.2" fill="none" stroke="#000" stroke-width="1.8"/>
<polyline points="568.2,1045.8 669.4,1045.8" fill="none" stroke="#000" stroke-width="1.4"/>
<polyline points="613.3,1045.8 613.3,1048.8 766.3,1048.8" fill="none" stroke="#000" stroke-width="2"/>
<rect x="729.5" y="1045.5" width="36.8" height="3.6" fill="#000"/>
<polyline points="729.0,1046.5 801.9,1046.5" fill="none" stroke="#000" stroke-width="1.6"/>
<polyline points="801.9,1045.6 832.0,1045.6" fill="none" stroke="#000" stroke-width="1.0"/>
<defs><linearGradient id="lg" x1="0" x2="1" y1="0" y2="0"><stop offset="0.0000" stop-color="#D73027"/><stop offset="0.1667" stop-color="#FC8D59"/><stop offset="0.3333" stop-color="#FEE090"/><stop offset="0.5000" stop-color="#FFFFBF"/><stop offset="0.6667" stop-color="#E0F3F8"/><stop offset="0.8333" stop-color="#91BFDB"/><stop offset="1.0000" stop-color="#4575B4"/></linearGradient></defs>
<defs><linearGradient id="lgb" x1="0" x2="1" y1="0" y2="0"><stop offset="0.0000" stop-color="#d83329"/><stop offset="0.0100" stop-color="#d83329"/><stop offset="0.0100" stop-color="#da382c"/><stop offset="0.0200" stop-color="#da382c"/><stop offset="0.0200" stop-color="#dd3e2f"/><stop offset="0.0300" stop-color="#dd3e2f"/><stop offset="0.0300" stop-color="#df4432"/><stop offset="0.0400" stop-color="#df4432"/><stop offset="0.0400" stop-color="#e14935"/><stop offset="0.0500" stop-color="#e14935"/><stop offset="0.0500" stop-color="#e34f38"/><stop offset="0.0600" stop-color="#e34f38"/><stop offset="0.0600" stop-color="#e5543a"/><stop offset="0.0700" stop-color="#e5543a"/><stop offset="0.0700" stop-color="#e85a3d"/><stop offset="0.0800" stop-color="#e85a3d"/><stop offset="0.0800" stop-color="#ea5f40"/><stop offset="0.0900" stop-color="#ea5f40"/><stop offset="0.0900" stop-color="#ec6544"/><stop offset="0.1000" stop-color="#ec6544"/><stop offset="0.1000" stop-color="#ee6b46"/><stop offset="0.1100" stop-color="#ee6b46"/><stop offset="0.1100" stop-color="#f17049"/><stop offset="0.1200" stop-color="#f17049"/><stop offset="0.1200" stop-color="#f3764c"/><stop offset="0.1300" stop-color="#f3764c"/><stop offset="0.1300" stop-color="#f57b50"/><stop offset="0.1400" stop-color="#f57b50"/><stop offset="0.1400" stop-color="#f78152"/><stop offset="0.1500" stop-color="#f78152"/><stop offset="0.1500" stop-color="#f98656"/><stop offset="0.1600" stop-color="#f98656"/><stop offset="0.1600" stop-color="#fc8c58"/><stop offset="0.1700" stop-color="#fc8c58"/><stop offset="0.1700" stop-color="#fc915c"/><stop offset="0.1800" stop-color="#fc915c"/><stop offset="0.1800" stop-color="#fc965f"/><stop offset="0.1900" stop-color="#fc965f"/><stop offset="0.1900" stop-color="#fc9b62"/><stop offset="0.2000" stop-color="#fc9b62"/><stop offset="0.2000" stop-color="#fca066"/><stop offset="0.2100" stop-color="#fca066"/><stop offset="0.2100" stop-color="#fda569"/><stop offset="0.2200" stop-color="#fda569"/><stop offset="0.2200" stop-color="#fdaa6c"/><stop offset="0.2300" stop-color="#fdaa6c"/><stop offset="0.2300" stop-color="#fdaf70"/><stop offset="0.2400" stop-color="#fdaf70"/><stop offset="0.2400" stop-color="#fdb473"/><stop offset="0.2500" stop-color="#fdb473"/><stop offset="0.2500" stop-color="#fdb976"/><stop offset="0.2600" stop-color="#fdb976"/><stop offset="0.2600" stop-color="#fdbe79"/><stop offset="0.2700" stop-color="#fdbe79"/><stop offset="0.2700" stop-color="#fdc37d"/><stop offset="0.2800" stop-color="#fdc37d"/><stop offset="0.2800" stop-color="#fdc880"/><stop offset="0.2900" stop-color="#fdc880"/><stop offset="0.2900" stop-color="#fecd83"/><stop offset="0.3000" stop-color="#fecd83"/><stop offset="0.3000" stop-color="#fed287"/><stop offset="0.3100" stop-color="#fed287"/><stop offset="0.3100" stop-color="#fed78a"/><stop offset="0.3200" stop-color="#fed78a"/><stop offset="0.3200" stop-color="#fedc8d"/><stop offset="0.3300" stop-color="#fedc8d"/><stop offset="0.3300" stop-color="#fee090"/><stop offset="0.3400" stop-color="#fee090"/><stop offset="0.3400" stop-color="#fee293"/><stop offset="0.3500" stop-color="#fee293"/><stop offset="0.3500" stop-color="#fee496"/><stop offset="0.3600" stop-color="#fee496"/><stop offset="0.3600" stop-color="#fee699"/><stop offset="0.3700" stop-color="#fee699"/><stop offset="0.3700" stop-color="#fee89c"/><stop offset="0.3800" stop-color="#fee89c"/><stop offset="0.3800" stop-color="#feea9f"/><stop offset="0.3900" stop-color="#feea9f"/><stop offset="0.3900" stop-color="#feeba1"/><stop offset="0.4000" stop-color="#feeba1"/><stop offset="0.4000" stop-color="#feeda4"/><stop offset="0.4100" stop-color="#feeda4"/><stop offset="0.4100" stop-color="#feefa7"/><stop offset="0.4200" stop-color="#feefa7"/><stop offset="0.4200" stop-color="#fff1aa"/><stop offset="0.4300" stop-color="#fff1aa"/><stop offset="0.4300" stop-color="#fff3ad"/><stop offset="0.4400" stop-color="#fff3ad"/><stop offset="0.4400" stop-color="#fff5af"/><stop offset="0.4500" stop-color="#fff5af"/><stop offset="0.4500" stop-color="#fff7b2"/><stop offset="0.4600" stop-color="#fff7b2"/><stop offset="0.4600" stop-color="#fff8b5"/><stop offset="0.4700" stop-color="#fff8b5"/><stop offset="0.4700" stop-color="#fffab8"/><stop offset="0.4800" stop-color="#fffab8"/><stop offset="0.4800" stop-color="#fffcbb"/><stop offset="0.4900" stop-color="#fffcbb"/><stop offset="0.4900" stop-color="#fffebe"/><stop offset="0.5000" stop-color="#fffebe"/><stop offset="0.5000" stop-color="#feffc1"/><stop offset="0.5100" stop-color="#feffc1"/><stop offset="0.5100" stop-color="#fcfec4"/><stop offset="0.5200" stop-color="#fcfec4"/><stop offset="0.5200" stop-color="#fafdc8"/><stop offset="0.5300" stop-color="#fafdc8"/><stop offset="0.5300" stop-color="#f8fccb"/><stop offset="0.5400" stop-color="#f8fccb"/><stop offset="0.5400" stop-color="#f7fcce"/><stop offset="0.5500" stop-color="#f7fcce"/><stop offset="0.5500" stop-color="#f5fbd2"/><stop offset="0.5600" stop-color="#f5fbd2"/><stop offset="0.5600" stop-color="#f3fad5"/><stop offset="0.5700" stop-color="#f3fad5"/><stop offset="0.5700" stop-color="#f1fad9"/><stop offset="0.5800" stop-color="#f1fad9"/><stop offset="0.5800" stop-color="#eff9dc"/><stop offset="0.5900" stop-color="#eff9dc"/><stop offset="0.5900" stop-color="#edf8df"/><stop offset="0.6000" stop-color="#edf8df"/><stop offset="0.6000" stop-color="#ebf7e3"/><stop offset="0.6100" stop-color="#ebf7e3"/><stop offset="0.6100" stop-color="#eaf7e6"/><stop offset="0.6200" stop-color="#eaf7e6"/><stop offset="0.6200" stop-color="#e8f6ea"/><stop offset="0.6300" stop-color="#e8f6ea"/><stop offset="0.6300" stop-color="#e6f5ed"/><stop offset="0.6400" stop-color="#e6f5ed"/><stop offset="0.6400" stop-color="#e4f5f1"/><stop offset="0.6500" stop-color="#e4f5f1"/><stop offset="0.6500" stop-color="#e2f4f4"/><stop offset="0.6600" stop-color="#e2f4f4"/><stop offset="0.6600" stop-color="#e0f3f7"/><stop offset="0.6700" stop-color="#e0f3f7"/><stop offset="0.6700" stop-color="#dcf0f7"/><stop offset="0.6800" stop-color="#dcf0f7"/><stop offset="0.6800" stop-color="#d7edf5"/><stop offset="0.6900" stop-color="#d7edf5"/><stop offset="0.6900" stop-color="#d3eaf3"/><stop offset="0.7000" stop-color="#d3eaf3"/><stop offset="0.7000" stop-color="#cee7f1"/><stop offset="0.7100" stop-color="#cee7f1"/><stop offset="0.7100" stop-color="#c9e4f0"/><stop offset="0.7200" stop-color="#c9e4f0"/><stop offset="0.7200" stop-color="#c4e1ee"/><stop offset="0.7300" stop-color="#c4e1ee"/><stop offset="0.7300" stop-color="#c0deec"/><stop offset="0.7400" stop-color="#c0deec"/><stop offset="0.7400" stop-color="#bbdbea"/><stop offset="0.7500" stop-color="#bbdbea"/><stop offset="0.7500" stop-color="#b6d7e9"/><stop offset="0.7600" stop-color="#b6d7e9"/><stop offset="0.7600" stop-color="#b1d4e7"/><stop offset="0.7700" stop-color="#b1d4e7"/><stop offset="0.7700" stop-color="#add1e5"/><stop offset="0.7800" stop-color="#add1e5"/><stop offset="0.7800" stop-color="#a8cee3"/><stop offset="0.7900" stop-color="#a8cee3"/><stop offset="0.7900" stop-color="#a3cbe2"/><stop offset="0.8000" stop-color="#a3cbe2"/><stop offset="0.8000" stop-color="#9ec8e0"/><stop offset="0.8100" stop-color="#9ec8e0"/><stop offset="0.8100" stop-color="#9ac5de"/><stop offset="0.8200" stop-color="#9ac5de"/><stop offset="0.8200" stop-color="#95c2dc"/><stop offset="0.8300" stop-color="#95c2dc"/><stop offset="0.8300" stop-color="#90bedb"/><stop offset="0.8400" stop-color="#90bedb"/><stop offset="0.8400" stop-color="#8cbad8"/><stop offset="0.8500" stop-color="#8cbad8"/><stop offset="0.8500" stop-color="#87b5d6"/><stop offset="0.8600" stop-color="#87b5d6"/><stop offset="0.8600" stop-color="#83b1d4"/><stop offset="0.8700" stop-color="#83b1d4"/><stop offset="0.8700" stop-color="#7eacd1"/><stop offset="0.8800" stop-color="#7eacd1"/><stop offset="0.8800" stop-color="#79a8cf"/><stop offset="0.8900" stop-color="#79a8cf"/><stop offset="0.8900" stop-color="#75a4cd"/><stop offset="0.9000" stop-color="#75a4cd"/><stop offset="0.9000" stop-color="#709fca"/><stop offset="0.9100" stop-color="#709fca"/><stop offset="0.9100" stop-color="#6c9bc8"/><stop offset="0.9200" stop-color="#6c9bc8"/><stop offset="0.9200" stop-color="#6796c6"/><stop offset="0.9300" stop-color="#6796c6"/><stop offset="0.9300" stop-color="#6392c3"/><stop offset="0.9400" stop-color="#6392c3"/><stop offset="0.9400" stop-color="#5e8dc1"/><stop offset="0.9500" stop-color="#5e8dc1"/><stop offset="0.9500" stop-color="#5a89bf"/><stop offset="0.9600" stop-color="#5a89bf"/><stop offset="0.9600" stop-color="#5585bc"/><stop offset="0.9700" stop-color="#5585bc"/><stop offset="0.9700" stop-color="#5080ba"/><stop offset="0.9800" stop-color="#5080ba"/><stop offset="0.9800" stop-color="#4c7cb8"/><stop offset="0.9900" stop-color="#4c7cb8"/><stop offset="0.9900" stop-color="#4777b5"/><stop offset="1.0000" stop-color="#4777b5"/></linearGradient></defs>
<rect x="270.6" y="1109.6" width="454.6" height="31" fill="url(#lgb)"/>
<text x="276.99" y="1103.30" font-size="29" fill="#000">70</text>
<text x="340.10" y="1103.30" font-size="29" fill="#000">60</text>
<text x="403.36" y="1103.30" font-size="29" fill="#000">50</text>
<text x="466.71" y="1103.30" font-size="29" fill="#000">40</text>
<text x="529.59" y="1103.30" font-size="29" fill="#000">30</text>
<text x="592.51" y="1103.30" font-size="29" fill="#000">20</text>
<text x="655.23" y="1103.30" font-size="29" fill="#000"> 0</text><path d="M696 0L696 1409L576 1409C560 1290 380 1175 200 1171L186 1036C330 1040 450 1050 510 1061L510 0Z" fill="#000" transform="translate(655.23,1103.30) scale(0.01416,-0.01416)"/>
</svg>
</body></html>
